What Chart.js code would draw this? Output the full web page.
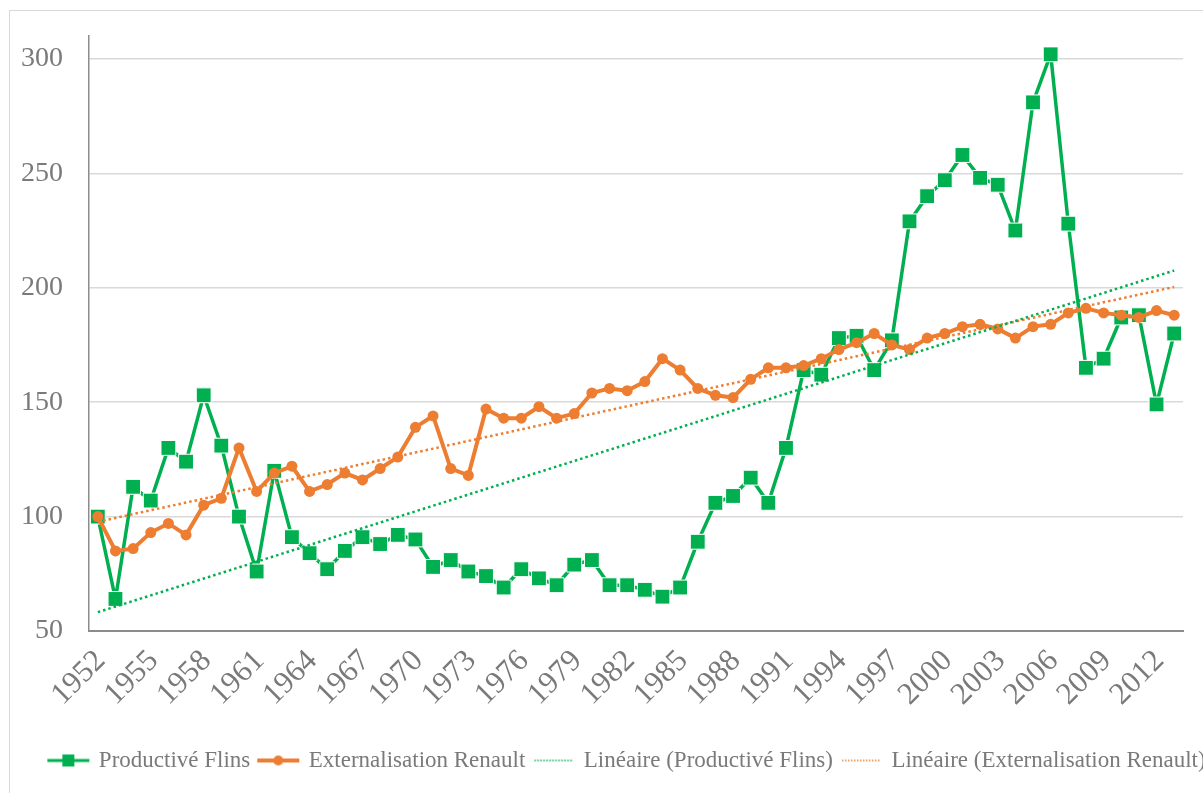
<!DOCTYPE html>
<html>
<head>
<meta charset="utf-8">
<script src="https://cdn.jsdelivr.net/npm/chart.js@4.4.1/dist/chart.umd.min.js"></script>
<style>
  body { margin: 0; background: #fff; overflow: hidden; }
  #frame { position: absolute; left: 9px; top: 10px; width: 1300px; height: 900px; border: 1px solid #d9d9d9; }
  canvas { position: absolute; left: 0; top: 0; }
</style>
</head>
<body>
<div id="frame"></div>
<canvas id="c" width="1203" height="793"></canvas>
<script>
const years = ['1952','1953','1954','1955','1956','1957','1958','1959','1960','1961',
  '1962','1963','1964','1965','1966','1967','1968','1969','1970','1971',
  '1972','1973','1974','1975','1976','1977','1978','1979','1980','1981',
  '1982','1983','1984','1985','1986','1987','1988','1989','1990','1991',
  '1992','1993','1994','1995','1996','1997','1998','1999','2000','2001',
  '2002','2003','2004','2005','2006','2007','2008','2009','2010','2011',
  '2012','2013'];

const flins = [100, 64, 113, 107, 130, 124, 153, 131, 100, 76,
  120, 91, 84, 77, 85, 91, 88, 92, 90, 78,
  81, 76, 74, 69, 77, 73, 70, 79, 81, 70,
  70, 68, 65, 69, 89, 106, 109, 117, 106, 130,
  164, 162, 178, 179, 164, 177, 229, 240, 247, 258,
  248, 245, 225, 281, 302, 228, 165, 169, 187, 188,
  149, 180];

const renault = [100, 85, 86, 93, 97, 92, 105, 108, 130, 111,
  119, 122, 111, 114, 119, 116, 121, 126, 139, 144,
  121, 118, 147, 143, 143, 148, 143, 145, 154, 156,
  155, 159, 169, 164, 156, 153, 152, 160, 165, 165,
  166, 169, 173, 176, 180, 175, 173, 178, 180, 183,
  184, 182, 178, 183, 184, 189, 191, 189, 188, 187,
  190, 188];

const yTicks = [50, 100, 150, 200, 250, 300];

const GREEN = '#00b050';
const ORANGE = '#ed7d31';
const TEXT = '#7a7a7a';
const FONT = "'Liberation Serif', 'Times New Roman', serif";

// least squares trend, same as Excel "Linéaire"
function linearFit(vals) {
  const n = vals.length;
  let sx = 0, sy = 0, sxx = 0, sxy = 0;
  vals.forEach((v, i) => { sx += i; sy += v; sxx += i * i; sxy += i * v; });
  const b = (n * sxy - sx * sy) / (n * sxx - sx * sx);
  const a = (sy - b * sx) / n;
  return vals.map((_, i) => a + b * i);
}

function legendIcon(color, kind) {
  const c = document.createElement('canvas');
  c.width = 46; c.height = 16;
  const g = c.getContext('2d');
  g.strokeStyle = color; g.fillStyle = color;
  if (kind === 'dotted') {
    g.lineWidth = 1.5;
    g.setLineDash([1.5, 1.5]);
    g.beginPath(); g.moveTo(4, 8); g.lineTo(42, 8); g.stroke();
  } else {
    g.lineWidth = kind === 'square' ? 3 : 4;
    g.beginPath(); g.moveTo(2, 8); g.lineTo(44, 8); g.stroke();
    if (kind === 'square') g.fillRect(17, 2, 12, 12);
    else { g.beginPath(); g.arc(23, 8, 5, 0, Math.PI * 2); g.fill(); }
  }
  return c;
}

const icons = [legendIcon(GREEN, 'square'), legendIcon(ORANGE, 'circle'),
  legendIcon(GREEN, 'dotted'), legendIcon(ORANGE, 'dotted')];

// the original legend is centred on a wider frame, so nudge it right
const shiftLegend = {
  id: 'shiftLegend',
  afterLayout(chart) {
    chart.legend.left += 36;
    chart.legend.right += 36;
  }
};

new Chart(document.getElementById('c'), {
  type: 'line',
  data: {
    labels: years,
    datasets: [
      {
        label: 'Productivé Flins', data: flins, order: 2,
        borderColor: GREEN, backgroundColor: GREEN, borderWidth: 3.5,
        pointStyle: 'rect', pointRadius: 10.5, pointBorderColor: '#ffffff',
        pointBorderWidth: 1, pointBackgroundColor: GREEN
      },
      {
        label: 'Externalisation Renault', data: renault, order: 1,
        borderColor: ORANGE, backgroundColor: ORANGE, borderWidth: 4,
        pointStyle: 'circle', pointRadius: 5.5, pointBorderWidth: 0,
        pointBackgroundColor: ORANGE
      },
      {
        label: 'Linéaire (Productivé Flins)', data: linearFit(flins), order: 0,
        borderColor: GREEN, borderWidth: 2.5, borderDash: [2.5, 3], pointRadius: 0
      },
      {
        label: 'Linéaire (Externalisation Renault)', data: linearFit(renault), order: 0,
        borderColor: ORANGE, borderWidth: 2.5, borderDash: [2.5, 3], pointRadius: 0
      }
    ]
  },
  plugins: [shiftLegend],
  options: {
    responsive: false,
    animation: false,
    layout: { padding: { top: 36, right: 20, bottom: 11, left: 0 } },
    plugins: {
      tooltip: { enabled: false },
      legend: {
        position: 'bottom',
        labels: {
          usePointStyle: true,
          pointStyleWidth: 38,
          padding: 9,
          color: TEXT,
          font: { family: FONT, size: 23 },
          generateLabels: chart => chart.data.datasets.map((ds, i) => ({
            text: ds.label, pointStyle: icons[i], fontColor: TEXT,
            strokeStyle: 'transparent', fillStyle: 'transparent', lineWidth: 0, datasetIndex: i
          }))
        }
      }
    },
    scales: {
      x: {
        offset: true,
        grid: { display: false, drawTicks: false },
        border: { color: '#8c8c8c', width: 2 },
        ticks: {
          autoSkip: false, minRotation: 45, maxRotation: 45, padding: 12, labelOffset: 3,
          color: TEXT, font: { family: FONT, size: 31 },
          callback: (v, i) => (i % 3 === 0 ? years[i] : '')
        },
        afterFit: s => { s.height = 109; s.paddingLeft = 0; s.paddingRight = 0; }
      },
      y: {
        min: 50, max: 310,
        afterBuildTicks: s => { s.ticks = yTicks.map(v => ({ value: v })); },
        grid: { color: '#d9d9d9', lineWidth: 1.5, drawTicks: false },
        border: { color: '#8c8c8c', width: 1.5 },
        ticks: { padding: 26, color: TEXT, font: { family: FONT, size: 28 } },
        afterFit: s => { s.width = 89; s.paddingTop = 0; s.paddingBottom = 0; }
      }
    }
  }
});
</script>
</body>
</html>
